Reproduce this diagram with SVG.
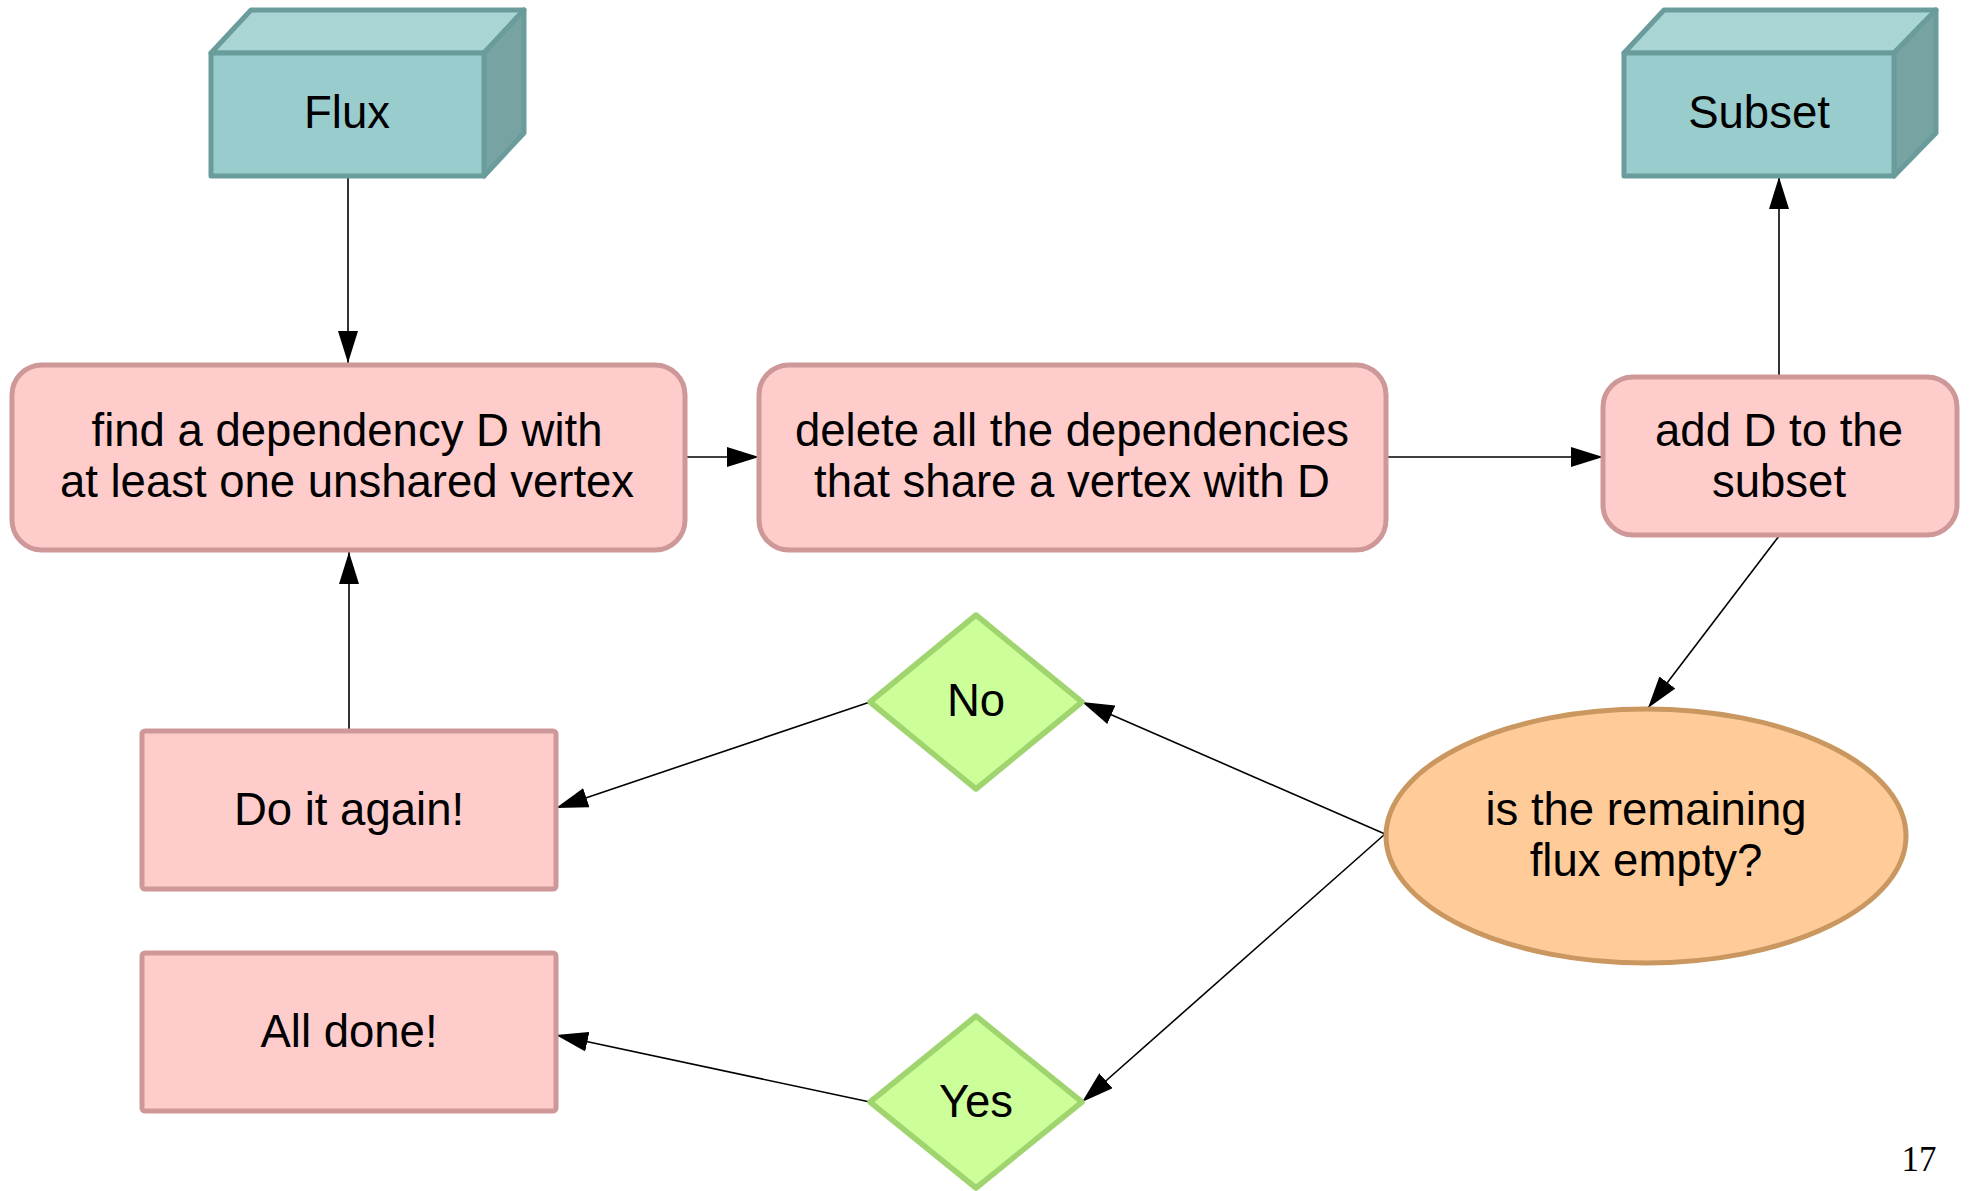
<svg xmlns="http://www.w3.org/2000/svg" width="1971" height="1191" viewBox="0 0 1971 1191">
  <style>
    .t { font-family: "Liberation Sans", Arial, sans-serif; font-size: 45.5px; fill: #000; text-anchor: middle; }
    .pg { fill: #ffcccc; stroke: #cf9898; stroke-width: 5; }
    .tf { fill: #99cccc; stroke: #6a9c9c; stroke-width: 5; stroke-linejoin: round; }
    .tt { fill: #aad5d5; stroke: #6a9c9c; stroke-width: 5; stroke-linejoin: round; }
    .tr { fill: #77a3a3; stroke: #6a9c9c; stroke-width: 5; stroke-linejoin: round; }
    .dm { fill: #ccff99; stroke: #9fd46f; stroke-width: 5.5; stroke-linejoin: round; }
    .el { fill: #ffcc99; stroke: #c9975f; stroke-width: 5; }
    .c { fill: none; stroke: #000; stroke-width: 1.6; marker-end: url(#ah); }
  </style>
  <defs>
    <marker id="ah" markerUnits="userSpaceOnUse" markerWidth="32" markerHeight="20" refX="32" refY="10" orient="auto" viewBox="0 0 32 20">
      <path d="M0,0 L32,10 L0,20 z" fill="#000"/>
    </marker>
  </defs>
  <rect width="1971" height="1191" fill="#fff"/>

  <g id="connectors">
    <path class="c" d="M348,176 L348,363"/>
    <path class="c" d="M685,457 L759,457"/>
    <path class="c" d="M1386,457 L1603,457"/>
    <path class="c" d="M1779,377 L1779,177"/>
    <path class="c" d="M1779,536 L1648,708"/>
    <path class="c" d="M1385,834 L1082,702"/>
    <path class="c" d="M1385,834 L1082,1102"/>
    <path class="c" d="M870,702 L556,808"/>
    <path class="c" d="M870,1102 L556,1035"/>
    <path class="c" d="M349,731 L349,552"/>
  </g>

  <g id="flux">
    <polygon class="tt" points="211,53 251,10 524,10 484,53"/>
    <polygon class="tr" points="484,53 524,10 524,133 484,176"/>
    <rect class="tf" x="211" y="53" width="273" height="123"/>
    <text class="t" x="347" y="128">Flux</text>
  </g>

  <g id="subset">
    <polygon class="tt" points="1624,53 1664,10 1936,10 1894,53"/>
    <polygon class="tr" points="1894,53 1936,10 1936,133 1894,176"/>
    <rect class="tf" x="1624" y="53" width="270" height="123"/>
    <text class="t" x="1759" y="128">Subset</text>
  </g>

  <g id="find">
    <rect class="pg" x="12" y="365" width="673" height="185" rx="30"/>
    <text class="t" x="347" y="446">find a dependency D with</text>
    <text class="t" x="347" y="497">at least one unshared vertex</text>
  </g>

  <g id="delete">
    <rect class="pg" x="759" y="365" width="627" height="185" rx="30"/>
    <text class="t" x="1072" y="446">delete all the dependencies</text>
    <text class="t" x="1072" y="497">that share a vertex with D</text>
  </g>

  <g id="add">
    <rect class="pg" x="1603" y="377" width="354" height="158" rx="30"/>
    <text class="t" x="1779" y="446">add D to the</text>
    <text class="t" x="1779" y="497">subset</text>
  </g>

  <g id="question">
    <ellipse class="el" cx="1646" cy="836" rx="260" ry="127"/>
    <text class="t" x="1646" y="825">is the remaining</text>
    <text class="t" x="1646" y="876">flux empty?</text>
  </g>

  <g id="no">
    <polygon class="dm" points="976,615 1082,702 976,789 870,702"/>
    <text class="t" x="976" y="716">No</text>
  </g>

  <g id="yes">
    <polygon class="dm" points="976,1016 1082,1102 976,1188 870,1102"/>
    <text class="t" x="976" y="1117">Yes</text>
  </g>

  <g id="again">
    <rect class="pg" x="142" y="731" width="414" height="158" rx="3"/>
    <text class="t" x="349" y="825">Do it again!</text>
  </g>

  <g id="done">
    <rect class="pg" x="142" y="953" width="414" height="158" rx="3"/>
    <text class="t" x="349" y="1047">All done!</text>
  </g>

  <text x="1919" y="1171" font-family="'Liberation Serif', 'Times New Roman', serif" font-size="35" text-anchor="middle" fill="#000">17</text>
</svg>
